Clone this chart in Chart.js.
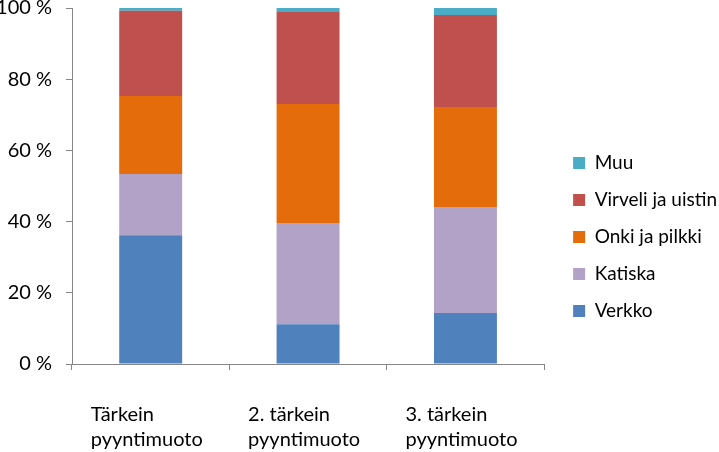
<!DOCTYPE html>
<html>
<head>
<meta charset="utf-8">
<script src="https://cdn.jsdelivr.net/npm/chart.js@4/dist/chart.umd.min.js"></script>
<style>
  html, body { margin: 0; padding: 0; background: #fff; }
  #wrap { width: 719px; height: 452px; }
</style>
</head>
<body>
<div id="wrap"><canvas id="graphic"></canvas></div>
<script>
var kategoriat = [['Tärkein', 'pyyntimuoto'], ['2. tärkein', 'pyyntimuoto'], ['3. tärkein', 'pyyntimuoto']];

var verkko = [36.2, 11.2, 14.3];
var katiska = [17.2, 28.4, 29.8];
var onkiJaPilkki = [21.9, 33.4, 28.1];
var virveliJaUistin = [23.9, 25.9, 25.8];
var muu = [0.8, 1.1, 2.0];

var yTicks = [0, 20, 40, 60, 80, 100];

var fontti = 'Lato, "Open Sans", sans-serif';
var harmaa = '#868686';

// siirtää selitettä vähän oikealle ja alas, kuten alkuperäisessä kuvassa
var selitteenSiirto = {
    id: 'selitteenSiirto',
    afterLayout: function (chart) {
        var l = chart.legend;
        l.left += 11; l.right += 11;
        l.top += 7; l.bottom += 7;
    }
};

var ctx = document.getElementById('graphic');

var chartGraph = new Chart(ctx, {
    type: 'bar',
    data: {
        labels: kategoriat,
        datasets: [
            { label: 'Verkko', data: verkko, backgroundColor: '#4F81BD' },
            { label: 'Katiska', data: katiska, backgroundColor: '#B3A2C7' },
            { label: 'Onki ja pilkki', data: onkiJaPilkki, backgroundColor: '#E46C0A' },
            { label: 'Virveli ja uistin', data: virveliJaUistin, backgroundColor: '#C0504D' },
            { label: 'Muu', data: muu, backgroundColor: '#4BACC6' }
        ]
    },
    plugins: [selitteenSiirto],
    options: {
        responsive: true,
        maintainAspectRatio: false,
        animation: false,
        datasets: {
            bar: { barPercentage: 1, categoryPercentage: 0.4 }
        },
        layout: { padding: { left: 0, top: 8, right: 3, bottom: 0 } },
        plugins: {
            legend: {
                position: 'right',
                reverse: true,
                maxWidth: 179,
                labels: {
                    font: { family: fontti, size: 19 },
                    color: '#000',
                    boxWidth: 12,
                    boxHeight: 12,
                    padding: 18
                }
            },
            tooltip: { enabled: false }
        },
        scales: {
            x: {
                stacked: true,
                afterFit: function (scale) { scale.height = 88; },
                border: { color: harmaa, width: 1 },
                grid: { display: true, drawOnChartArea: false, offset: true, color: harmaa, tickLength: 6 },
                ticks: {
                    font: { family: fontti, size: 20, lineHeight: 1.25 },
                    color: '#000',
                    padding: 32,
                    align: 'start',
                    labelOffset: -60,
                    maxRotation: 0
                }
            },
            y: {
                stacked: true,
                min: 0,
                max: 100,
                afterBuildTicks: function (scale) {
                    scale.ticks = yTicks.map(function (v) { return { value: v }; });
                },
                afterFit: function (scale) {
                    scale.width = 72;
                    scale.paddingTop = 0;
                    scale.paddingBottom = 0;
                },
                border: { color: harmaa, width: 1 },
                grid: { display: true, drawOnChartArea: false, color: harmaa, tickLength: 6 },
                ticks: {
                    font: { family: fontti, size: 20 },
                    color: '#000',
                    padding: 14,
                    callback: function (v) { return v + ' %'; }
                }
            }
        }
    }
});
</script>
</body>
</html>
